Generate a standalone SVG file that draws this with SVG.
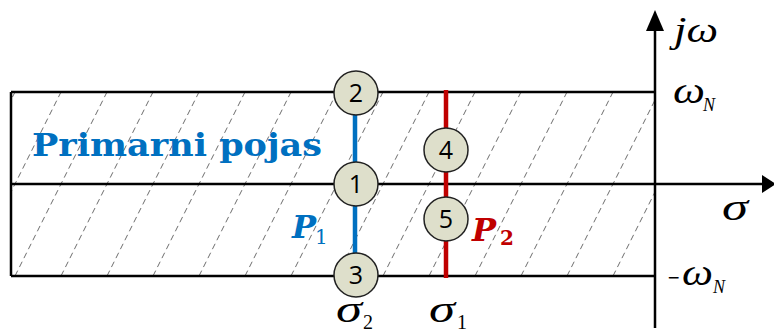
<svg xmlns="http://www.w3.org/2000/svg" width="774" height="333" viewBox="0 0 774 333">
<style>
.ax{stroke:#000;stroke-width:2.5;fill:none}
.hatch{stroke:#6e6e6e;stroke-width:1;stroke-dasharray:6 4;fill:none}
.node circle{fill:#dedfcb;stroke:#222;stroke-width:1.5}
.node text{font-family:"Open Sans","Liberation Sans",sans-serif;font-size:25px;fill:#000;text-anchor:middle}
</style>
<defs>
<clipPath id="band"><rect x="11" y="92" width="644" height="184"/></clipPath>
</defs>
<g id="hatching" clip-path="url(#band)">
<path class="hatch" d="M-77,276 l92,-184 M-31,276 l92,-184 M15,276 l92,-184 M61,276 l92,-184 M107,276 l92,-184 M153,276 l92,-184 M199,276 l92,-184 M245,276 l92,-184 M291,276 l92,-184 M337,276 l92,-184 M383,276 l92,-184 M429,276 l92,-184 M475,276 l92,-184 M521,276 l92,-184 M567,276 l92,-184 M613,276 l92,-184"/>
</g>
<g id="connectors">
<path class="ax" d="M11,92 H655 M11,276 H655 M11,92 V276 M11,184 H764 M655,328 V28"/>
<polygon points="655,10 646,31 664,31" fill="#000"/>
<polygon points="776,184 762,175 762,193" fill="#000"/>
<line x1="355" y1="110" x2="355" y2="260" stroke="#0070c0" stroke-width="4.5"/>
<line x1="446" y1="90" x2="446" y2="278" stroke="#c00000" stroke-width="4.5"/>
</g>
<g id="node2" class="node"><circle cx="356" cy="93" r="22"/><text x="356" y="102">2</text></g>
<g id="node1" class="node"><circle cx="356" cy="184" r="22"/><text x="356" y="193">1</text></g>
<g id="node3" class="node"><circle cx="356" cy="275" r="22"/><text x="356" y="284">3</text></g>
<g id="node4" class="node"><circle cx="446" cy="150" r="22"/><text x="446" y="159">4</text></g>
<g id="node5" class="node"><circle cx="446" cy="219" r="22"/><text x="446" y="228">5</text></g>
<g id="labels" font-family="'Liberation Serif',serif">
<text x="32" y="156" font-family="'DejaVu Serif',serif" font-weight="bold" font-size="31" fill="#0070c0" textLength="290" lengthAdjust="spacingAndGlyphs">Primarni pojas</text>
<text x="292" y="238" font-family="'DejaVu Serif',serif" font-weight="bold" font-style="italic" font-size="32" fill="#0070c0">P</text>
<text x="315" y="244" font-family="'DejaVu Serif',serif" font-size="20" fill="#0070c0">1</text>
<text x="472" y="241" font-family="'DejaVu Serif',serif" font-weight="bold" font-style="italic" font-size="32" fill="#c00000">P</text>
<text x="500" y="245" font-family="'DejaVu Serif',serif" font-weight="bold" font-size="20" fill="#c00000">2</text>
<text x="336" y="322" font-style="italic" font-size="38" textLength="26" lengthAdjust="spacingAndGlyphs">σ</text>
<text x="363" y="329" font-size="20">2</text>
<text x="429" y="322" font-style="italic" font-size="38" textLength="26" lengthAdjust="spacingAndGlyphs">σ</text>
<text x="457" y="329" font-size="20">1</text>
<text x="674" y="42" font-style="italic" font-size="36" textLength="44" lengthAdjust="spacingAndGlyphs">jω</text>
<text x="673" y="103" font-style="italic" font-size="38" textLength="32" lengthAdjust="spacingAndGlyphs">ω</text>
<text x="703" y="111" font-style="italic" font-size="18">N</text>
<text x="722" y="220" font-style="italic" font-size="38" textLength="26" lengthAdjust="spacingAndGlyphs">σ</text>
<text x="667" y="283" font-family="'DejaVu Sans',sans-serif" font-size="16" textLength="13" lengthAdjust="spacingAndGlyphs">−</text>
<text x="682" y="285" font-style="italic" font-size="38" textLength="31" lengthAdjust="spacingAndGlyphs">ω</text>
<text x="713" y="293" font-style="italic" font-size="18">N</text>
</g>
</svg>
